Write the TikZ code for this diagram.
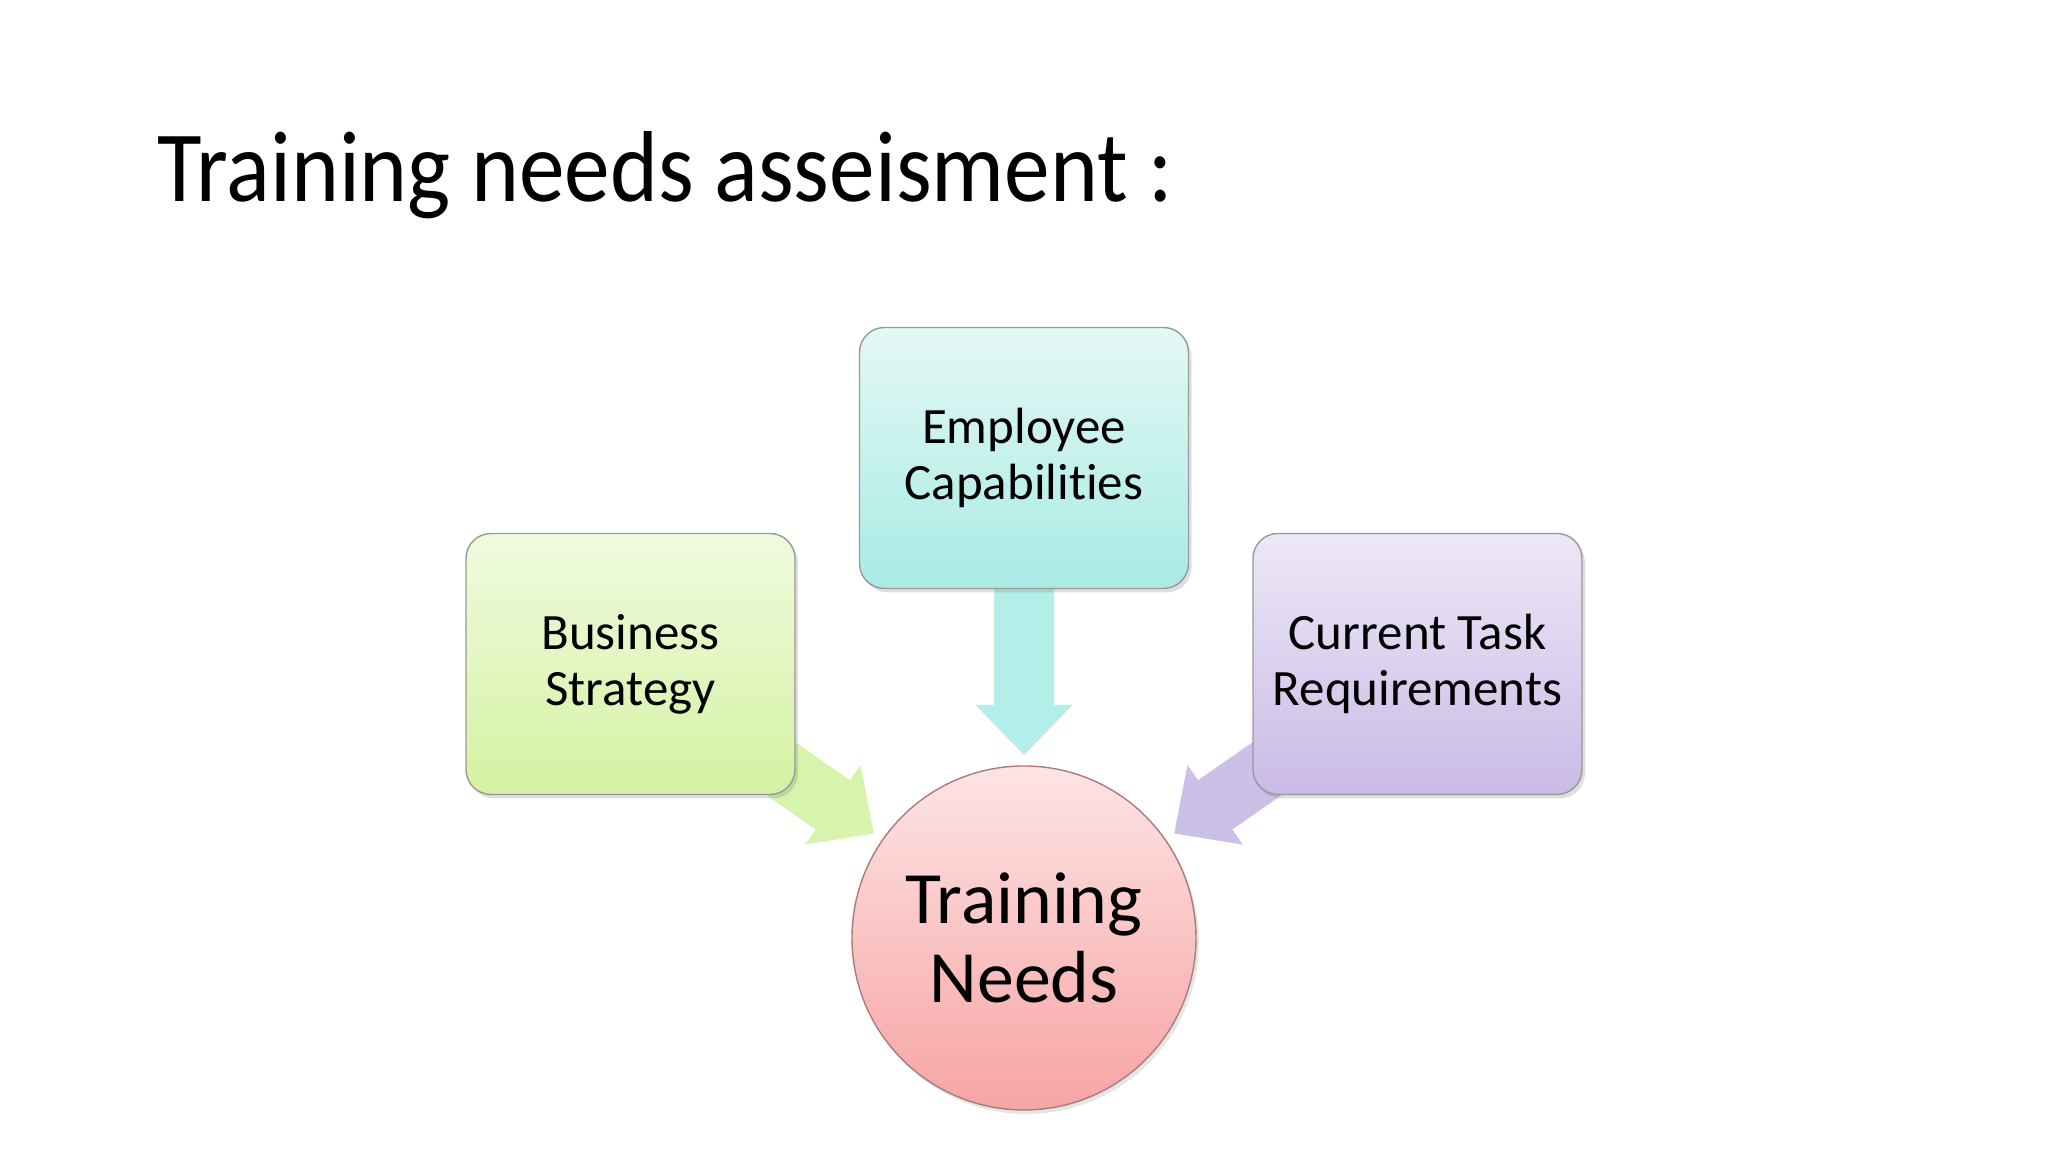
\documentclass[tikz,border=0pt]{standalone}
\usepackage{fontspec}
\setmainfont[Ligatures=NoCommon]{Carlito}
\usetikzlibrary{calc, positioning, shadows, backgrounds}
\definecolor{greenTop}{HTML}{F0FADF}
\definecolor{greenBot}{HTML}{D4F2A2}
\definecolor{cyanTop}{HTML}{E4F8F5}
\definecolor{cyanBot}{HTML}{A8EBE4}
\definecolor{lilacTop}{HTML}{EDE7F7}
\definecolor{lilacBot}{HTML}{C9BBE6}
\definecolor{roseTop}{HTML}{FDE4E4}
\definecolor{roseBot}{HTML}{F7A4A4}
\definecolor{greenArrow}{HTML}{D6F4AC}
\definecolor{cyanArrow}{HTML}{B3EEE8}
\definecolor{lilacArrow}{HTML}{CCBFE8}
\definecolor{edgeGray}{gray}{0.6}

\begin{document}
\begin{tikzpicture}[
    box/.style={draw=edgeGray, rounded corners=0.25cm, minimum width=3.29cm, minimum height=2.61cm,
        align=center, font=\fontsize{14.5}{15.9}\selectfont,
        drop shadow={opacity=0.25, shadow xshift=0.03cm, shadow yshift=-0.04cm}},
    hub/.style={circle, draw=edgeGray!80!red, minimum size=3.44cm, inner sep=0pt, align=center,
        font=\fontsize{21}{22.5}\selectfont, top color=roseTop, bottom color=roseBot,
        drop shadow={opacity=0.2, shadow xshift=0.03cm, shadow yshift=-0.04cm}}
]
    \useasboundingbox (0,0) rectangle (20.48,11.52);

    \node[anchor=base west, inner sep=0pt, font=\fontsize{28.7}{34}\selectfont] (title) at (1.57,9.50)
        {\scalebox{0.905}[1]{Training needs asseisment :}};

    \node[box, top color=cyanTop, bottom color=cyanBot] (ec) at (10.24,6.94) {Employee\\Capabilities};
    \node[box, top color=greenTop, bottom color=greenBot] (bs) at (6.305,4.88) {Business\\Strategy};
    \node[box, top color=lilacTop, bottom color=lilacBot] (ct) at (14.175,4.88) {Current Task\\Requirements};
    \node[hub] (tn) at (10.24,2.14) {Training\\Needs};

    % block arrows, tucked behind the boxes
    \begin{scope}[on background layer]
        \foreach \src/\col in {bs/greenArrow, ec/cyanArrow, ct/lilacArrow} {
            \coordinate (tip) at ($(tn)!1.83cm!(\src)$);
            \coordinate (neck) at ($(tip)!0.5cm!(\src)$);
            \fill[\col] ($(\src)!0.3cm!90:(tip)$) -- ($(neck)!0.3cm!90:(tip)$)
                -- ($(neck)!0.485cm!90:(tip)$) -- (tip) -- ($(neck)!0.485cm!-90:(tip)$)
                -- ($(neck)!0.3cm!-90:(tip)$) -- ($(\src)!0.3cm!-90:(tip)$) -- cycle;
        }
    \end{scope}
\end{tikzpicture}
\end{document}
